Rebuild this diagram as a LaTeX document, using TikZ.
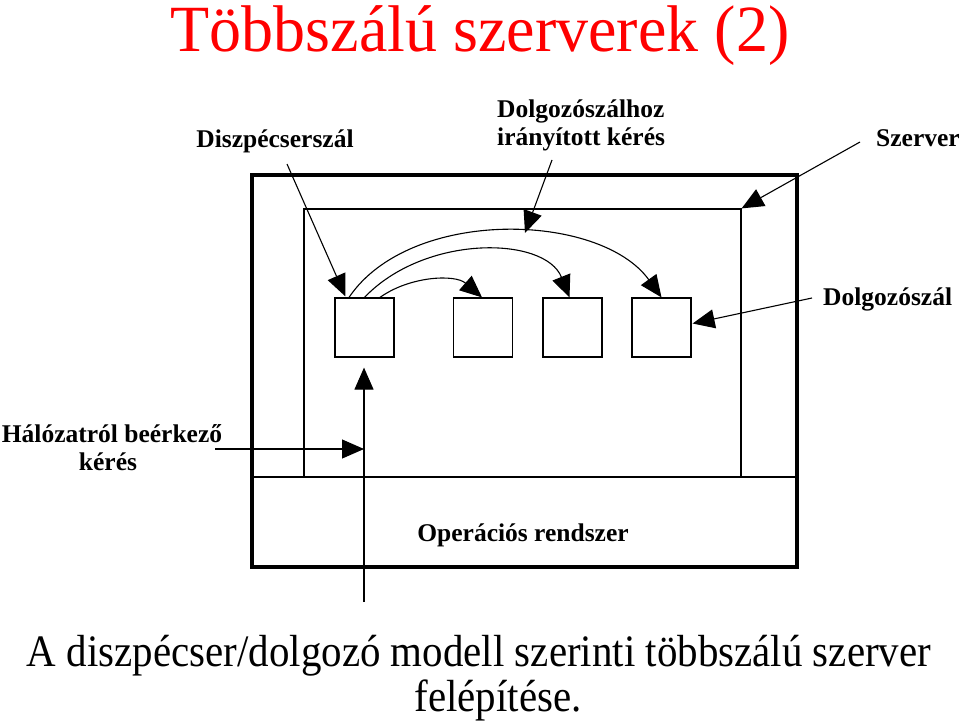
\documentclass[tikz,border=0pt]{standalone}
\usepackage{graphicx}
\usepackage{fontspec}
\setmainfont{Liberation Serif}
\usetikzlibrary{arrows.meta,calc}
\begin{document}
\begin{tikzpicture}[x=1pt,y=-1pt,
  lbl/.style={font=\fontsize{25.5}{28}\selectfont\bfseries, inner sep=0pt, anchor=base},
  thr/.style={draw, line width=1.2pt, minimum size=59pt, inner sep=0pt},
  arr/.style={line width=1.1pt, -{Triangle[length=22pt,width=19pt]}},
  thinln/.style={line width=1.2pt},
  captxt/.style={anchor=base, font=\fontsize{45}{48}\selectfont, inner sep=0pt}]
\useasboundingbox (0,0) rectangle (960,722);
% title and caption
\node[anchor=base, text=red, font=\fontsize{66}{70}\selectfont, inner sep=0pt] (title) at (480,52) {\scalebox{0.97}[1]{Többszálú szerverek (2)}};
\node[captxt] (cap1) at (479,666) {\scalebox{0.91}[1]{A diszpécser/dolgozó modell szerinti többszálú szerver}};
\node[captxt] (cap2) at (498,711) {\scalebox{0.91}[1]{felépítése.}};
% boxes
\node[draw, line width=4pt, minimum width=545pt, minimum height=392pt, inner sep=0pt] (outer) at (524.5,371) {};
\node[draw, thinln, minimum width=437pt, minimum height=268pt, inner sep=0pt] (server) at (522.5,343) {};
\coordinate (osl) at (252,477);
\coordinate (osr) at (797,477);
\draw[thinln] (osl) -- (osr);
\node[lbl] (os) at (523,541) {Operációs rendszer};
\node[thr] (b1) at (364.5,327.5) {};
\node[thr] (b2) at (483,327.5) {};
\node[thr] (b3) at (572.5,327.5) {};
\node[thr] (b4) at (661.5,327.5) {};
% labels
\node[lbl] (ldisp) at (275,148) {Diszpécserszál};
\node[lbl, anchor=base west] (lreq1) at (497,118) {Dolgozószálhoz};
\node[lbl, anchor=base west] (lreq2) at (497,146) {irányított kérés};
\node[lbl, anchor=base west] (lsrv) at (876,147) {Szerver};
\node[lbl, anchor=base west] (lwrk) at (823,305) {Dolgozószál};
\node[lbl] (lnet1) at (112,442) {Hálózatról beérkező};
\node[lbl] (lnet2) at (108,470) {kérés};
% curved dispatch arrows
\draw[arr] ($(b1.north)+(-15.5,0)$) .. controls (410,207) and (600,212) .. (b4.north);
\draw[arr] (b1.north) .. controls (425,234) and (545,236) .. ($(b3.north)+(-3,0)$);
\draw[arr] ($(b1.north)+(15.5,0)$) .. controls (410,276) and (455,274) .. ($(b2.north)+(-1,0)$);
% pointer arrows
\coordinate (sdisp) at (287,164);
\coordinate (tdisp) at ($(b1.north west)+(11,-1)$);
\draw[arr] (sdisp) -- (tdisp);
\coordinate (sreq) at (552,160);
\coordinate (treq) at (525,233);
\draw[arr] (sreq) -- (treq);
\coordinate (ssrv) at (860,142);
\draw[arr] (ssrv) -- (server.north east);
\coordinate (swrk) at (812,298);
\draw[arr] (swrk) -- ($(b4.east)+(1,-4)$);
\coordinate (snet) at (215,449);
\coordinate (tnet) at (364,449);
\draw[arr] (snet) -- (tnet);
\coordinate (sin) at (364,602);
\draw[arr, shorten >=10pt] (sin) -- (sin |- b1.south);
\end{tikzpicture}
\end{document}
